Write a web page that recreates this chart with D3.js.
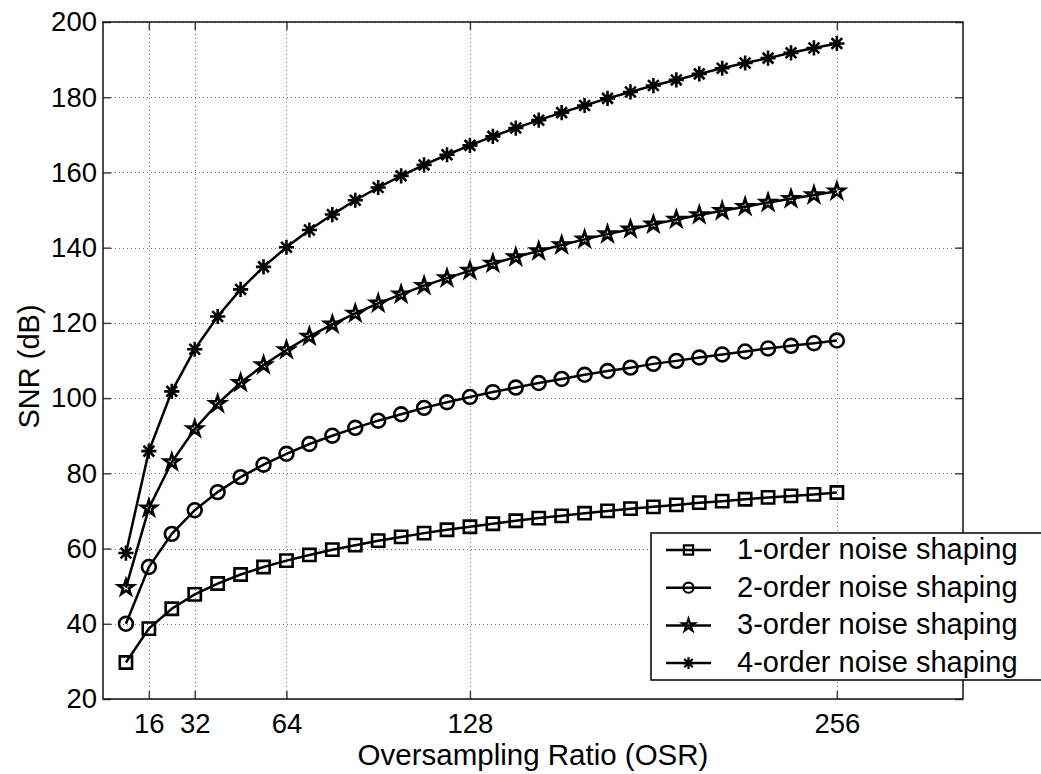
<!DOCTYPE html>
<html>
<head>
<meta charset="utf-8">
<script src="https://cdn.jsdelivr.net/npm/d3@7"></script>
<style>
	body { margin: 0; background: #fff; }
	text { font-family: "Liberation Sans", Arial, Helvetica, sans-serif; fill: #000; }
</style>
</head>
<body>
<svg class="chart"></svg>
<script>
// values
var osr = [8, 16, 24, 32, 40, 48, 56, 64, 72, 80, 88, 96, 104, 112, 120, 128,
	136, 144, 152, 160, 168, 176, 184, 192, 200, 208, 216, 224, 232, 240, 248, 256];
var snr1 = [29.7, 38.7, 44.0, 47.8, 50.7, 53.1, 55.1, 56.8, 58.3, 59.7, 60.9, 62.1, 63.1, 64.1, 65.0, 65.8,
	66.6, 67.4, 68.1, 68.7, 69.4, 70.0, 70.6, 71.1, 71.6, 72.2, 72.6, 73.1, 73.6, 74.0, 74.4, 74.9];
var snr2 = [40.0, 55.1, 63.9, 70.2, 75.0, 79.0, 82.3, 85.2, 87.8, 90.0, 92.1, 94.0, 95.7, 97.4, 98.9, 100.3,
	101.6, 102.8, 104.0, 105.1, 106.2, 107.2, 108.1, 109.1, 109.9, 110.8, 111.6, 112.4, 113.2, 113.9, 114.6, 115.3];
var snr3 = [49.6, 70.7, 83.0, 91.8, 98.5, 104.1, 108.8, 112.8, 116.4, 119.6, 122.5, 125.2, 127.6, 129.9, 131.9, 133.9,
	135.8, 137.5, 139.1, 140.7, 142.2, 143.6, 144.9, 146.2, 147.5, 148.7, 149.8, 150.9, 152.0, 153.0, 154.0, 155.0];
var snr4 = [58.8, 85.9, 101.8, 113.0, 121.7, 128.9, 134.9, 140.1, 144.7, 148.8, 152.6, 156.0, 159.1, 162.0, 164.7, 167.2,
	169.6, 171.8, 173.9, 175.9, 177.8, 179.7, 181.4, 183.1, 184.6, 186.2, 187.7, 189.1, 190.4, 191.8, 193.1, 194.3];
var seriesNames = ["1-order noise shaping", "2-order noise shaping", "3-order noise shaping", "4-order noise shaping"];
var xTicks = [16, 32, 64, 128, 256];
var yTicks = [20, 40, 60, 80, 100, 120, 140, 160, 180, 200];

var chartWidth = 1041, chartHeight = 774;
var plotLeft = 103, plotRight = 963, plotTop = 22, plotBottom = 699;

var svg = d3.select(".chart").attr("width", chartWidth).attr("height", chartHeight);
svg.append("rect").attr("width", chartWidth).attr("height", chartHeight).attr("fill", "#fff");

var x = d3.scaleLinear().domain([0, 300]).range([plotLeft, plotRight]);
var y = d3.scaleLinear().domain([20, 200]).range([plotBottom, plotTop]);

// asterisk like matlab '*' : plus and cross
var symbolStarburst = {
	draw: function(context, size) {
		var r = Math.sqrt(size) / 2;
		var d = r * Math.SQRT1_2;
		context.moveTo(-r, 0); context.lineTo(r, 0);
		context.moveTo(0, -r); context.lineTo(0, r);
		context.moveTo(-d, -d); context.lineTo(d, d);
		context.moveTo(-d, d); context.lineTo(d, -d);
	}
};
var types = [d3.symbolSquare, d3.symbolCircle, d3.symbolStar, symbolStarburst];
var plotSizes = [150, 150, 72, 230];
var legendSizes = [85, 80, 48, 140];
var series = [snr1, snr2, snr3, snr4];

// grid
var grid = svg.append("g").attr("stroke", "#777").attr("stroke-width", 1).attr("stroke-dasharray", "1,3");
grid.selectAll(".gx").data(xTicks).enter().append("line")
	.attr("x1", function(d) { return Math.round(x(d)) + 0.5; })
	.attr("x2", function(d) { return Math.round(x(d)) + 0.5; })
	.attr("y1", plotTop).attr("y2", plotBottom);
grid.selectAll(".gy").data(yTicks).enter().append("line")
	.attr("y1", function(d) { return Math.round(y(d)) + 0.5; })
	.attr("y2", function(d) { return Math.round(y(d)) + 0.5; })
	.attr("x1", plotLeft).attr("x2", plotRight);

// axes, ticks point inwards
function styleAxis(g) {
	g.select(".domain").remove();
	g.selectAll(".tick line").attr("stroke", "#444").attr("stroke-width", 1.5);
	g.selectAll(".tick text").attr("font-size", 27.5).attr("fill", "#000");
}
svg.append("g").attr("transform", "translate(0," + plotBottom + ")")
	.call(d3.axisBottom(x).tickValues(xTicks).tickSizeInner(-8).tickSizeOuter(0).tickPadding(14))
	.call(styleAxis);
svg.append("g").attr("transform", "translate(0," + plotTop + ")")
	.call(d3.axisTop(x).tickValues(xTicks).tickSizeInner(-8).tickSizeOuter(0).tickFormat(""))
	.call(styleAxis);
svg.append("g").attr("transform", "translate(" + plotLeft + ",0)")
	.call(d3.axisLeft(y).tickValues(yTicks).tickSizeInner(-8).tickSizeOuter(0).tickPadding(6))
	.call(styleAxis);
svg.append("g").attr("transform", "translate(" + plotRight + ",0)")
	.call(d3.axisRight(y).tickValues(yTicks).tickSizeInner(-8).tickSizeOuter(0).tickFormat(""))
	.call(styleAxis);

svg.append("rect").attr("x", plotLeft).attr("y", plotTop)
	.attr("width", plotRight - plotLeft).attr("height", plotBottom - plotTop)
	.attr("fill", "none").attr("stroke", "#111").attr("stroke-width", 1.5);

// axis labels
svg.append("text").attr("x", (plotLeft + plotRight) / 2).attr("y", 765).attr("text-anchor", "middle")
	.attr("font-size", 29.5).text("Oversampling Ratio (OSR)");
svg.append("text").attr("transform", "translate(39," + ((plotTop + plotBottom) / 2 + 6) + ") rotate(-90)")
	.attr("text-anchor", "middle").attr("font-size", 29).text("SNR (dB)");

// lines and markers
var line = d3.line().x(function(d) { return x(d[0]); }).y(function(d) { return y(d[1]); });
series.forEach(function(vals, i) {
	var pts = osr.map(function(o, j) { return [o, vals[j]]; });
	svg.append("path").datum(pts).attr("d", line)
		.attr("fill", "none").attr("stroke", "#000").attr("stroke-width", 2.5);
	svg.append("g").selectAll("path").data(pts).enter().append("path")
		.attr("transform", function(d) { return "translate(" + x(d[0]) + "," + y(d[1]) + ")"; })
		.attr("d", d3.symbol().type(types[i]).size(plotSizes[i]))
		.attr("fill", "none").attr("stroke", "#000").attr("stroke-width", 2.6);
});

// legend
var legend = svg.append("g");
legend.append("rect").attr("x", 651).attr("y", 533).attr("width", 400).attr("height", 147)
	.attr("fill", "#fff").attr("stroke", "#000").attr("stroke-width", 1.5);
seriesNames.forEach(function(name, i) {
	var cy = 550 + i * 37.7;
	legend.append("line").attr("x1", 666).attr("x2", 711).attr("y1", cy).attr("y2", cy)
		.attr("stroke", "#000").attr("stroke-width", 2.5);
	legend.append("path").attr("transform", "translate(688.5," + cy + ")")
		.attr("d", d3.symbol().type(types[i]).size(legendSizes[i]))
		.attr("fill", "none").attr("stroke", "#000").attr("stroke-width", 2.2);
	legend.append("text").attr("x", 737).attr("y", cy + 9).attr("font-size", 29).text(name);
});
</script>
</body>
</html>
